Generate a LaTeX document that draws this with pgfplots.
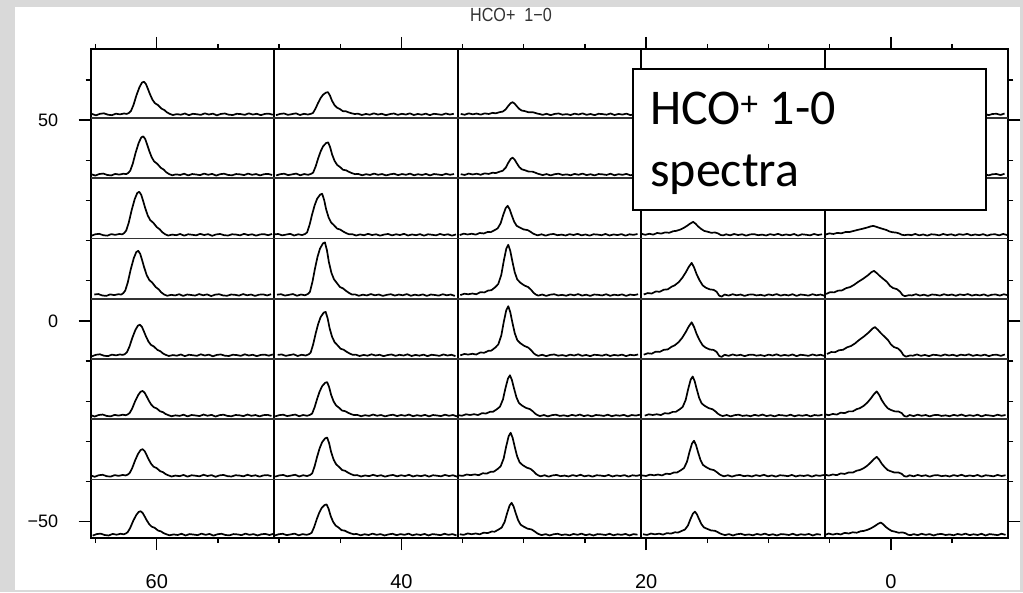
\documentclass[border=0pt]{standalone}
\usepackage{fontspec}
\setmainfont{Liberation Sans}
\newfontfamily\calib{Carlito}
\newfontfamily\narrow[FakeStretch=0.85]{Liberation Sans}
\usepackage{pgfplots}
\usepackage{pgfplotstable}
\pgfplotsset{compat=1.18}
\definecolor{bggray}{RGB}{217,217,217}

% templates: dx = pixel offset from the peak, f = fraction of peak height, n = noise (px)
\pgfplotstableread{
dx f n
-60 0 0.5
-56 0 -0.4
-52 0 0.2
-48 0 -0.7
-44 0 0.3
-40 0 0.6
-36 0 -0.3
-32 0 -0.6
-28 0 0.4
-24 0 -0.1
-20 0 0.5
-17 0.01 0
-15 0.04 0
-13 0.10 0
-10.5 0.28 0
-7.5 0.58 0
-4.5 0.83 0
-2 0.97 0
0 1 0
2 0.93 0
4 0.78 0
6 0.62 0
8.5 0.45 0
11 0.34 0
14 0.27 0.3
17.5 0.19 -0.3
20.5 0.12 0.2
23 0.06 0
26 0.01 0
29 0 -0.5
33 0 0.1
37 0 -0.3
41 0 0.5
45 0 -0.6
49 0 0.3
53 0 0.0
57 0 -0.4
61 0 0.6
65 0 -0.2
69 0 0.4
73 0 -0.7
77 0 0.2
81 0 0.5
85 0 -0.3
89 0 -0.5
93 0 0.3
97 0 0.1
101 0 -0.4
105 0 0.6
109 0 -0.2
113 0 0.3
117 0 -0.6
121 0 0.2
125 0 0.4
129 0 -0.3
133 0 0.5
137 0 -0.5
141 0 0.1
}\TA

\pgfplotstableread{
dx f n
-60 0 -0.3
-56 0 0.4
-52 0 -0.6
-48 0 0.2
-44 0 0.5
-40 0 -0.4
-36 0 0.1
-32 0 0.6
-28 0 -0.5
-24 0 0.3
-20 0 -0.2
-17 0.02 0
-15 0.06 0
-12.5 0.25 0
-10 0.50 0
-7.5 0.72 0
-5 0.88 0
-2 0.98 0
0 1 0
2 0.85 0
4 0.62 0
6.5 0.42 0
9 0.30 0
12 0.22 0.2
15 0.16 -0.3
18 0.12 0.2
21 0.08 0
24 0.04 0
27 0.01 0
30 0 0.4
34 0 -0.5
38 0 0.2
42 0 -0.3
46 0 0.6
50 0 -0.2
54 0 0.3
58 0 -0.6
62 0 0.1
66 0 0.5
70 0 -0.4
74 0 0.3
78 0 -0.2
82 0 0.6
86 0 -0.5
90 0 0.2
94 0 -0.3
98 0 0.4
102 0 -0.6
106 0 0.3
110 0 0.0
114 0 -0.4
118 0 0.5
122 0 -0.2
126 0 0.3
130 0 -0.6
134 0 0.2
138 0 -0.3
142 0 0.4
}\TB

\pgfplotstableread{
dx f n
-60 0 0.3
-56 0 -0.5
-52 0.00 0.2
-48 0.01 -0.4
-44 0.01 0.5
-40 0.02 -0.2
-36 0.02 0.3
-32 0.03 -0.5
-28 0.05 0.2
-24 0.06 -0.3
-20 0.08 0.3
-17 0.10 -0.2
-13 0.15 0.2
-10 0.22 0
-7 0.40 0
-4.5 0.68 0
-2 0.92 0
0 1 0
2 0.88 0
4 0.68 0
6.5 0.45 0
9 0.31 0
12 0.24 0.2
16 0.20 -0.3
20 0.15 0.2
23 0.10 0
25.5 0.04 0
27.5 0.01 0
30 0 -0.4
34 0 0.3
38 0 -0.6
42 0 0.2
46 0 0.5
50 0 -0.3
54 0 0.1
58 0 -0.5
62 0 0.4
66 0 -0.2
70 0 0.6
74 0 -0.4
78 0 0.2
82 0 -0.6
86 0 0.3
90 0 0.1
94 0 -0.3
98 0 0.5
102 0 -0.5
106 0 0.2
110 0 -0.2
114 0 0.4
118 0 -0.6
122 0 0.3
126 0 -0.1
130 0 0.5
134 0 -0.4
138 0 0.2
142 0 -0.3
}\TC

\pgfplotstableread{
dx f n
-60 0.01 0.3
-56 0.015 -0.4
-52 0.02 0.5
-48 0.03 -0.3
-44 0.05 0.2
-40 0.07 -0.5
-36 0.09 0.4
-32 0.11 -0.2
-28 0.15 0.3
-24 0.19 -0.3
-20 0.25 0.2
-17 0.30 0
-13 0.40 0
-9.5 0.53 0
-6 0.70 0
-3 0.87 0
0 1 0
2.5 0.85 0
5 0.64 0
8 0.45 0
11 0.30 0
14 0.22 0.2
18 0.19 -0.3
22 0.15 0.2
25 0.10 0
27.5 -0.02 0
30 -0.05 0
33 0 0.3
37 0 -0.4
41 0 0.5
45 0 -0.2
49 0 0.3
53 0 -0.6
57 0 0.2
61 0 0.4
65 0 -0.3
69 0 0.1
73 0 -0.5
77 0 0.4
81 0 -0.2
85 0 0.6
89 0 -0.4
93 0 0.2
97 0 -0.3
101 0 0.5
105 0 -0.6
109 0 0.3
113 0 0.0
117 0 -0.4
121 0 0.5
125 0 -0.2
129 0 0.3
133 0 -0.5
137 0 0.2
141 0 -0.3
}\TD

\pgfplotstableread{
dx f n
-60 0.02 0.2
-56 0.03 -0.4
-52 0.04 0.3
-48 0.06 -0.3
-44 0.09 0.4
-40 0.12 -0.2
-36 0.16 0.3
-32 0.21 -0.3
-28 0.27 0.2
-24 0.34 -0.2
-20 0.42 0
-16 0.54 0
-11 0.67 0
-6 0.82 0
-2.5 0.95 0
0 1 0
3 0.90 0
6 0.78 0
9.5 0.66 0
13 0.54 0
16 0.38 0
19 0.29 0
23 0.24 0
26 0.14 0
28.5 0.0 0
31 -0.05 0
35 -0.02 0.2
38 0 -0.3
42 0 0.5
46 0 -0.4
50 0 0.2
54 0 -0.6
58 0 0.3
62 0 0.1
66 0 -0.4
70 0 0.5
74 0 -0.2
78 0 0.3
82 0 -0.5
86 0 0.4
90 0 -0.1
94 0 0.6
98 0 -0.4
102 0 0.2
106 0 -0.3
110 0 0.4
114 0 -0.6
118 0 0.2
122 0 0.3
126 0 -0.4
130 0 0.5
134 0 -0.2
138 0 0.3
142 0 -0.5
}\TE

% #1 table, #2 cell left x, #3 peak offset (px from cell left), #4 baseline y, #5 peak height, #6 cell right x
\newcommand\spec[6]{%
  \addplot[black, line width=1.7pt, line join=round, no markers, restrict x to domain=#6:#2]
    table[x expr={#2-(#3+\thisrow{dx})/12.25}, y expr={#4+#5*\thisrow{f}+\thisrow{n}/2.6}] {#1};}

\begin{document}
\begin{tikzpicture}[x=1pt,y=1pt]
\useasboundingbox (0,0) rectangle (1023,592);
\fill[bggray] (0,0) rectangle (1023,592);
\fill[white] (15,2) rectangle (1020,585);
\node[font=\narrow\fontsize{19}{22}\selectfont, text=black!80] at (511,577) {HCO+\ \ 1−0};
\begin{axis}[
  at={(90.7pt,54pt)}, anchor=south west,
  scale only axis, width=917.6pt, height=489pt,
  x dir=reverse,
  xmin=-9.6, xmax=65.4, ymin=-54.06, ymax=67.7,
  axis line style={line width=1.8pt},
  tick align=outside, tick pos=both,
  xticklabel pos=lower, yticklabel pos=left,
  major tick length=12pt, minor tick length=5pt,
  every tick/.style={black, line width=1.4pt},
  xtick={0,20,40,60}, xticklabels={0,20,40,60},
  minor xtick={-5,5,10,15,25,30,35,45,50,55,65},
  ytick={-50,0,50}, yticklabels={−50,0,50},
  minor ytick={-40,-30,-20,-10,10,20,30,40,60},
  /pgf/number format/assume math mode=true,
  xticklabel style={font=\fontsize{20}{22}\selectfont, yshift=-21pt},
  yticklabel style={font=\fontsize{18}{20}\selectfont, xshift=-17pt},
  clip=true,
]
% cell separators
\foreach \xx in {50.4,35.4,20.4,5.4}{
  \edef\tmp{\noexpand\draw[black, line width=1.8pt] (axis cs:\xx,-54.06) -- (axis cs:\xx,67.7);}\tmp}
\foreach \yy in {50.5,35.5,20.5,5.5,-9.5,-24.5,-39.5}{
  \edef\tmp{\noexpand\draw[black!80, line width=1.8pt] (axis cs:-9.6,\yy) -- (axis cs:65.4,\yy);}\tmp}
% row 1
\spec{\TA}{65.4}{53.3}{51.45}{8.1}{50.4}
\spec{\TB}{50.4}{53.8}{51.45}{5.5}{35.4}
\spec{\TC}{35.4}{55}{51.45}{3.0}{20.4}
\spec{\TD}{20.4}{52}{51.45}{1.5}{5.4}
\spec{\TE}{5.4}{50}{51.45}{1.0}{-9.6}
% row 2
\spec{\TA}{65.4}{52.6}{36.45}{9.5}{50.4}
\spec{\TB}{50.4}{54}{36.45}{8.0}{35.4}
\spec{\TC}{35.4}{55}{36.45}{4.2}{20.4}
\spec{\TD}{20.4}{52}{36.45}{1.0}{5.4}
\spec{\TE}{5.4}{50}{36.45}{0.8}{-9.6}
% row 3
\spec{\TA}{65.4}{48.6}{21.45}{10.7}{50.4}
\spec{\TB}{50.4}{48}{21.45}{10.2}{35.4}
\spec{\TC}{35.4}{50}{21.45}{7.2}{20.4}
\spec{\TD}{20.4}{52}{21.45}{3.2}{5.4}
\spec{\TE}{5.4}{48.6}{21.45}{2.2}{-9.6}
% row 4
\spec{\TA}{65.4}{47.6}{6.45}{11.0}{50.4}
\spec{\TB}{50.4}{50.8}{6.45}{13.1}{35.4}
\spec{\TC}{35.4}{50.6}{6.45}{12.5}{20.4}
\spec{\TD}{20.4}{50.5}{6.45}{8.0}{5.4}
\spec{\TE}{5.4}{49.3}{6.45}{6.0}{-9.6}
% row 5
\spec{\TA}{65.4}{49.3}{-8.55}{7.6}{50.4}
\spec{\TB}{50.4}{51.5}{-8.55}{10.8}{35.4}
\spec{\TC}{35.4}{50.6}{-8.55}{12.2}{20.4}
\spec{\TD}{20.4}{50.5}{-8.55}{8.2}{5.4}
\spec{\TE}{5.4}{50.3}{-8.55}{7.0}{-9.6}
% row 6
\spec{\TA}{65.4}{52}{-23.55}{6.1}{50.4}
\spec{\TB}{50.4}{53}{-23.55}{8.3}{35.4}
\spec{\TC}{35.4}{52.3}{-23.55}{10.0}{20.4}
\spec{\TC}{20.4}{51.5}{-23.55}{9.7}{5.4}
\spec{\TD}{5.4}{52}{-23.55}{6.0}{-9.6}
% row 7
\spec{\TA}{65.4}{52}{-38.55}{6.6}{50.4}
\spec{\TB}{50.4}{53}{-38.55}{9.5}{35.4}
\spec{\TC}{35.4}{53}{-38.55}{10.7}{20.4}
\spec{\TC}{20.4}{52.8}{-38.55}{8.7}{5.4}
\spec{\TD}{5.4}{52}{-38.55}{4.7}{-9.6}
% row 8
\spec{\TA}{65.4}{50}{-53.2}{5.8}{50.4}
\spec{\TB}{50.4}{52.5}{-53.2}{7.5}{35.4}
\spec{\TC}{35.4}{54}{-53.2}{7.9}{20.4}
\spec{\TC}{20.4}{53.8}{-53.2}{5.7}{5.4}
\spec{\TD}{5.4}{56}{-53.2}{3.0}{-9.6}
\end{axis}
\draw[black, line width=1.8pt, fill=white] (633.3,382) rectangle (986,522.7);
\node[anchor=base west, inner sep=0pt, font=\calib\fontsize{50}{60}\selectfont] at (650,467) {HCO\textsuperscript{+} 1-0};
\node[anchor=base west, inner sep=0pt, font=\calib\fontsize{50}{60}\selectfont] at (650,405.3) {spectra};
\end{tikzpicture}
\end{document}
